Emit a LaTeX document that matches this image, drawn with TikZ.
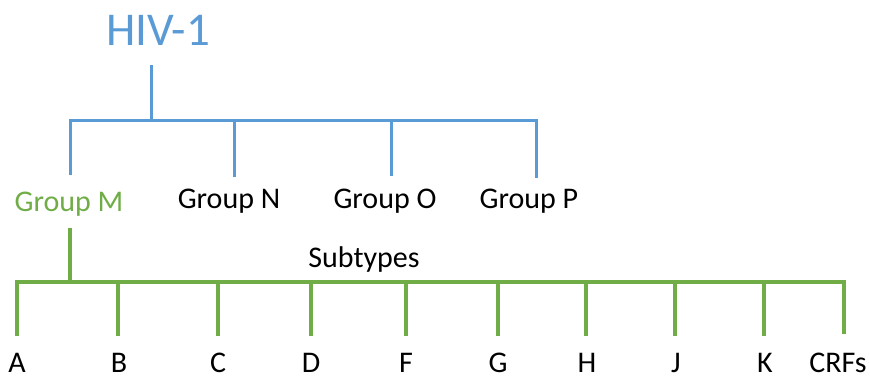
\documentclass[tikz,border=0pt]{standalone}
\usepackage{fontspec}
\setmainfont{Carlito}
\definecolor{hivblue}{RGB}{91,155,213}
\definecolor{hivgreen}{RGB}{112,173,71}
\begin{document}
\begin{tikzpicture}[x=1pt,y=-1pt,
  lbl/.style={anchor=base,inner sep=0pt,font=\fontsize{30}{32}\selectfont},
  bluel/.style={draw=hivblue,line width=3pt},
  greenl/.style={draw=hivgreen,line width=3.3pt}]
\useasboundingbox (0,0) rectangle (870,376);
% title
\node[anchor=base,inner sep=0pt,text=hivblue,font=\fontsize{47}{50}\selectfont] (hiv) at (158,45) {HIV-1};
% groups
\node[lbl,text=hivgreen] (gm) at (69,211) {Group M};
\node[lbl] (gn) at (229,208) {Group N};
\node[lbl] (go) at (385,208) {Group O};
\node[lbl] (gp) at (529,208) {Group P};
\node[lbl] (sub) at (364,267) {Subtypes};
% subtypes
\foreach \n/\x/\t in {a/17/A,b/119/B,c/218/C,d/311/D,f/406/F,g/498/G,h/587/H,j/676/J,k/765/K,crf/838/CRFs}
  \node[lbl] (\n) at (\x,372) {\t};
% blue tree
\coordinate (hv) at (151,65);
\coordinate (hj) at (151,120);
\coordinate (bm) at (70,175);
\coordinate (bn) at (234,177);
\coordinate (bo) at (391,176);
\coordinate (bp) at (536,178);
\draw[bluel] (hv) -- (hj);
\draw[bluel] (bm) -- (bm |- hj) -- (bp |- hj) -- (bp);
\draw[bluel] (bn) -- (bn |- hj);
\draw[bluel] (bo) -- (bo |- hj);
% green tree
\coordinate (mv) at (70,228);
\coordinate (mj) at (70,282);
\draw[greenl] (mv) -- (mj);
\coordinate (ga) at (17,336);
\coordinate (gcrf) at (844,334);
\draw[greenl] (ga) -- (ga |- mj) -- (gcrf |- mj) -- (gcrf);
\foreach \x in {118,218,311,406,498,586,675,764}
  \draw[greenl] (\x,336) -- (\x,282);
\end{tikzpicture}
\end{document}
